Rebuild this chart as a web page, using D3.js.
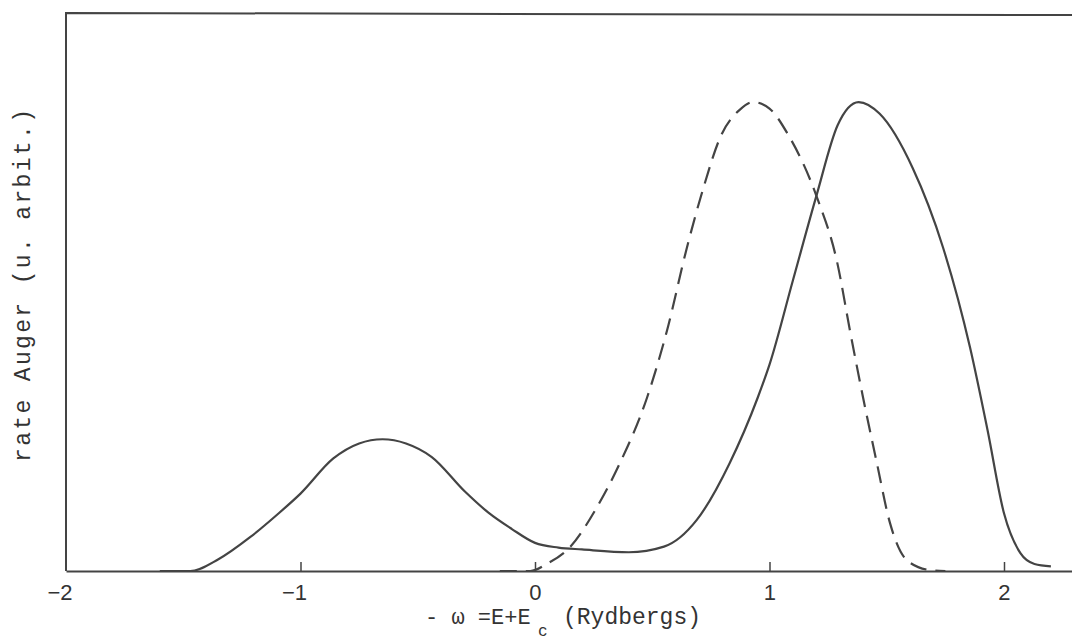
<!DOCTYPE html>
<html>
<head>
<meta charset="utf-8">
<script src="https://cdn.jsdelivr.net/npm/d3@7"></script>
<style>
  html, body { margin: 0; padding: 0; background: #fff; }
  svg { display: block; }
</style>
</head>
<body>
<svg id="chart" width="1072" height="642"></svg>
<script>
// ---- data ----
const solidX = [-1.6, -1.47, -1.35, -1.215, -1.1, -1.0, -0.86, -0.75, -0.65, -0.55, -0.44, -0.3, -0.2, -0.1, 0.0, 0.1, 0.2, 0.4, 0.55, 0.69, 0.83, 0.95, 1.0, 1.1, 1.2, 1.29, 1.38, 1.47, 1.61, 1.74, 1.855, 1.93, 2.0, 2.07, 2.13, 2.2];
const solidY = [0, 0, 0.025, 0.072, 0.12, 0.165, 0.24, 0.272, 0.281, 0.272, 0.243, 0.17, 0.125, 0.09, 0.06, 0.05, 0.046, 0.04, 0.052, 0.109, 0.23, 0.37, 0.44, 0.62, 0.80, 0.95, 1.0, 0.975, 0.86, 0.69, 0.477, 0.30, 0.123, 0.038, 0.015, 0.01];
const dashX = [-0.15, -0.02, 0.05, 0.149, 0.264, 0.362, 0.478, 0.563, 0.648, 0.72, 0.79, 0.874, 0.93, 1.0, 1.08, 1.2, 1.29, 1.343, 1.399, 1.458, 1.514, 1.586, 1.684, 1.75];
const dashY = [0, 0, 0.015, 0.051, 0.136, 0.23, 0.37, 0.513, 0.69, 0.82, 0.925, 0.984, 1.0, 0.986, 0.93, 0.80, 0.655, 0.513, 0.37, 0.23, 0.102, 0.023, 0.002, 0];
const tickValues = [-2, -1, 0, 1, 2];
const tickLabels = ["\u22122", "\u22121", "0", "1", "2"];
const xTitleMain = "- \u03C9 =E+E";
const xTitleSub = "c";
const xTitleUnit = "(Rydbergs)";
const yTitle = "rate Auger (u. arbit.)";

// ---- layout ----
const svg = d3.select("#chart");
const mLeft = 66, mRight = 1072, mTop = 13, mBottom = 571;
const x = d3.scaleLinear().domain([-2, 2.29]).range([mLeft, mRight]);
const y = d3.scaleLinear().domain([0, 1.19]).range([mBottom, mTop]);
const ink = "#444";

// frame (left + top)
svg.append("path")
  .attr("d", `M${mLeft},${mBottom} L${mLeft},${mTop} L${mRight},${mTop + 2}`)
  .attr("fill", "none").attr("stroke", ink).attr("stroke-width", 2);

// x axis
const xAxis = d3.axisBottom(x).tickValues(tickValues).tickSizeInner(-9).tickSizeOuter(0)
  .tickFormat((d, i) => tickLabels[i]);
const gx = svg.append("g").attr("transform", `translate(0,${mBottom})`).call(xAxis);
gx.select(".domain").attr("stroke", ink).attr("stroke-width", 2);
gx.selectAll(".tick line").attr("stroke", ink).attr("stroke-width", 1.5)
  .filter(d => d === -2).remove();
gx.selectAll(".tick text")
  .attr("font-family", "Liberation Sans, Arial, sans-serif")
  .attr("font-size", 22).attr("fill", "#333")
  .attr("text-anchor", "end")
  .attr("dx", 6)
  .attr("y", 29).attr("dy", 0);

// curves
const line = d3.line().x(d => x(d[0])).y(d => y(d[1])).curve(d3.curveMonotoneX);
svg.append("path")
  .datum(solidX.map((v, i) => [v, solidY[i]]))
  .attr("d", line).attr("fill", "none").attr("stroke", ink).attr("stroke-width", 2.2);
svg.append("path")
  .datum(dashX.map((v, i) => [v, dashY[i]]))
  .attr("d", line).attr("fill", "none").attr("stroke", ink).attr("stroke-width", 2.2)
  .attr("stroke-dasharray", "17,9");

// titles
const mono = "Liberation Mono, Courier New, monospace";
svg.append("text").attr("x", 425).attr("y", 624).attr("font-family", mono)
  .attr("font-size", 22).attr("fill", "#333").text(xTitleMain);
svg.append("text").attr("x", 538).attr("y", 636).attr("font-family", mono)
  .attr("font-size", 16).attr("fill", "#333").text(xTitleSub);
svg.append("text").attr("x", 563).attr("y", 624).attr("font-family", mono)
  .attr("font-size", 23).attr("fill", "#333").text(xTitleUnit);

svg.append("text")
  .attr("transform", `translate(30,${(463 + 108) / 2}) rotate(-90)`)
  .attr("text-anchor", "middle")
  .attr("font-family", mono).attr("font-size", 23).attr("fill", "#333")
  .attr("textLength", 353).attr("lengthAdjust", "spacing")
  .text(yTitle);
</script>
</body>
</html>
